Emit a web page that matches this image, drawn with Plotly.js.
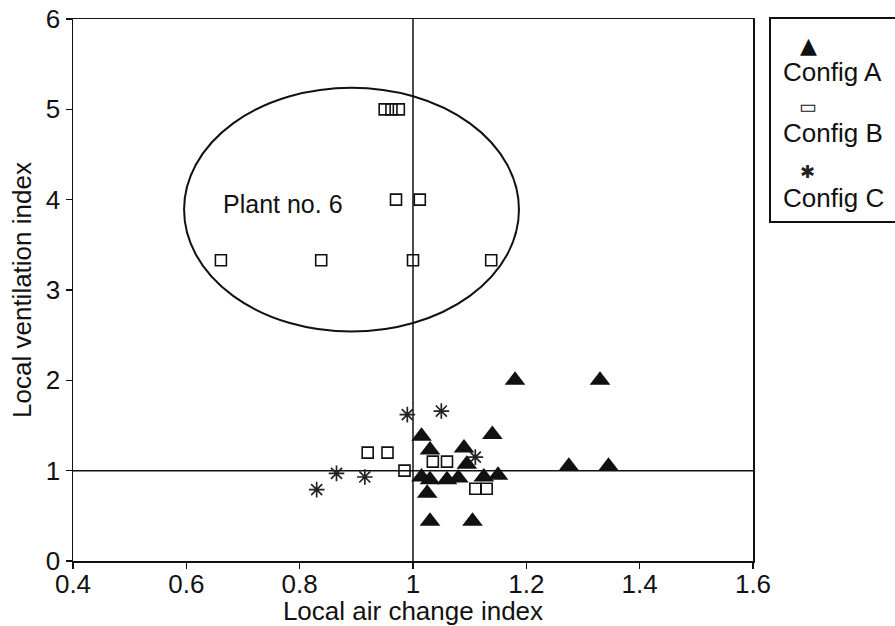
<!DOCTYPE html>
<html>
<head>
<meta charset="utf-8">
<script src="https://cdn.plot.ly/plotly-3.0.1.min.js"></script>
<style>html,body{margin:0;padding:0;background:#fff;}#chart{width:895px;height:626px;}</style>
</head>
<body>
<div id="chart"></div>
<script>
// ---- data ----
const configA_x = [1.18, 1.33, 1.275, 1.345, 1.015, 1.03, 1.14, 1.09, 1.095, 1.015, 1.03, 1.06, 1.08, 1.125, 1.15, 1.025, 1.03, 1.105];
const configA_y = [2.0, 2.0, 1.05, 1.05, 1.38, 1.23, 1.4, 1.25, 1.07, 0.93, 0.9, 0.9, 0.92, 0.93, 0.95, 0.75, 0.44, 0.44];

const configB_x = [0.95, 0.962, 0.975, 0.97, 1.012, 0.661, 0.838, 1.0, 1.138, 0.92, 0.955, 0.985, 1.035, 1.06, 1.11, 1.13];
const configB_y = [5.0, 5.0, 5.0, 4.0, 4.0, 3.33, 3.33, 3.33, 3.33, 1.2, 1.2, 1.0, 1.1, 1.1, 0.8, 0.8];

const configC_x = [0.83, 0.865, 0.915, 0.99, 1.05, 1.11];
const configC_y = [0.79, 0.97, 0.93, 1.62, 1.66, 1.15];

const seriesNames = ["Config A", "Config B", "Config C"];
const xTickVals = [0.4, 0.6, 0.8, 1.0, 1.2, 1.4, 1.6];
const xTickText = ["0.4", "0.6", "0.8", "1", "1.2", "1.4", "1.6"];
const yTickVals = [0, 1, 2, 3, 4, 5, 6];
const yTickText = ["0", "1", "2", "3", "4", "5", "6"];
const ellipseX = [0.596, 1.187];
const ellipseY = [2.54, 5.24];
const refLineX = 1;
const refLineY = 1;
const groupLabel = "Plant no. 6";
const groupLabelPos = [0.771, 3.95];

const INK = "#111111";
const FONT = "Liberation Sans, Arial, Helvetica, sans-serif";

const traces = [
  {x: configA_x, y: configA_y, name: seriesNames[0], type: "scatter", mode: "markers",
   marker: {symbol: "triangle-up", size: 18, color: INK, line: {width: 0}}},
  {x: configB_x, y: configB_y, name: seriesNames[1], type: "scatter", mode: "markers",
   marker: {symbol: "square-open", size: 11, color: INK, line: {width: 1.6, color: INK}}},
  {x: configC_x, y: configC_y, name: seriesNames[2], type: "scatter", mode: "markers",
   marker: {symbol: "asterisk-open", size: 13, color: "#222222", line: {width: 1.7, color: "#222222"}}}
];

// pixel -> paper helpers for the hand-built legend box
const PL = 73, PT = 19, PW = 680, PH = 542;
const px = v => (v - PL) / PW;
const py = v => (PT + PH - v) / PH;

const legendSym = (x, y, t, size, color) => ({xref: "paper", yref: "paper", x: px(x), y: py(y), text: t, showarrow: false,
  xanchor: "center", yanchor: "middle", font: {family: "DejaVu Sans", size: size, color: color}});
const legendTxt = (y, t) => ({xref: "paper", yref: "paper", x: px(781), y: py(y), text: t, showarrow: false,
  xanchor: "left", yanchor: "middle", font: {family: FONT, size: 26, color: INK}});

const layout = {
  width: 895, height: 626,
  margin: {l: PL, r: 895 - PL - PW, t: PT, b: 626 - PT - PH},
  paper_bgcolor: "#ffffff", plot_bgcolor: "#ffffff",
  showlegend: false,
  font: {family: FONT, size: 26, color: INK},
  xaxis: {
    range: [0.4, 1.6], tickvals: xTickVals, ticktext: xTickText,
    ticks: "outside", ticklen: 6, tickwidth: 1.5, tickcolor: INK,
    ticklabelstandoff: -7,
    showline: true, linecolor: INK, linewidth: 1.5, mirror: true,
    showgrid: false, zeroline: false,
    tickfont: {family: FONT, size: 26, color: INK},
    title: {text: "Local air change index", font: {family: FONT, size: 26, color: INK}, standoff: 0}
  },
  yaxis: {
    range: [0, 6], tickvals: yTickVals, ticktext: yTickText,
    ticks: "outside", ticklen: 6, tickwidth: 1.5, tickcolor: INK,
    showline: true, linecolor: INK, linewidth: 1.5, mirror: true,
    showgrid: false, zeroline: false,
    tickfont: {family: FONT, size: 26, color: INK},
    title: {text: "Local ventilation index", font: {family: FONT, size: 26, color: INK}, standoff: 6}
  },
  shapes: [
    {type: "line", xref: "x", yref: "paper", x0: refLineX, x1: refLineX, y0: 0, y1: 1, line: {color: INK, width: 1.5}, layer: "below"},
    {type: "line", xref: "paper", yref: "y", x0: 0, x1: 1, y0: refLineY, y1: refLineY, line: {color: INK, width: 1.5}, layer: "below"},
    {type: "circle", xref: "x", yref: "y", x0: ellipseX[0], x1: ellipseX[1], y0: ellipseY[0], y1: ellipseY[1], line: {color: INK, width: 2}},
    {type: "rect", xref: "paper", yref: "paper", x0: px(770), x1: px(905), y0: py(222), y1: py(18), line: {color: INK, width: 2}}
  ],
  annotations: [
    {xref: "x", yref: "y", x: groupLabelPos[0], y: groupLabelPos[1], text: groupLabel, showarrow: false,
     font: {family: FONT, size: 25, color: INK}},
    legendSym(808, 45, "▲", 22, INK),
    legendTxt(72, seriesNames[0]),
    legendSym(808, 106, "▭", 19, INK),
    legendTxt(133, seriesNames[1]),
    legendSym(807, 172, "✱", 18, "#222222"),
    legendTxt(198, seriesNames[2])
  ]
};

Plotly.newPlot("chart", traces, layout, {staticPlot: true, displayModeBar: false});
</script>
</body>
</html>
